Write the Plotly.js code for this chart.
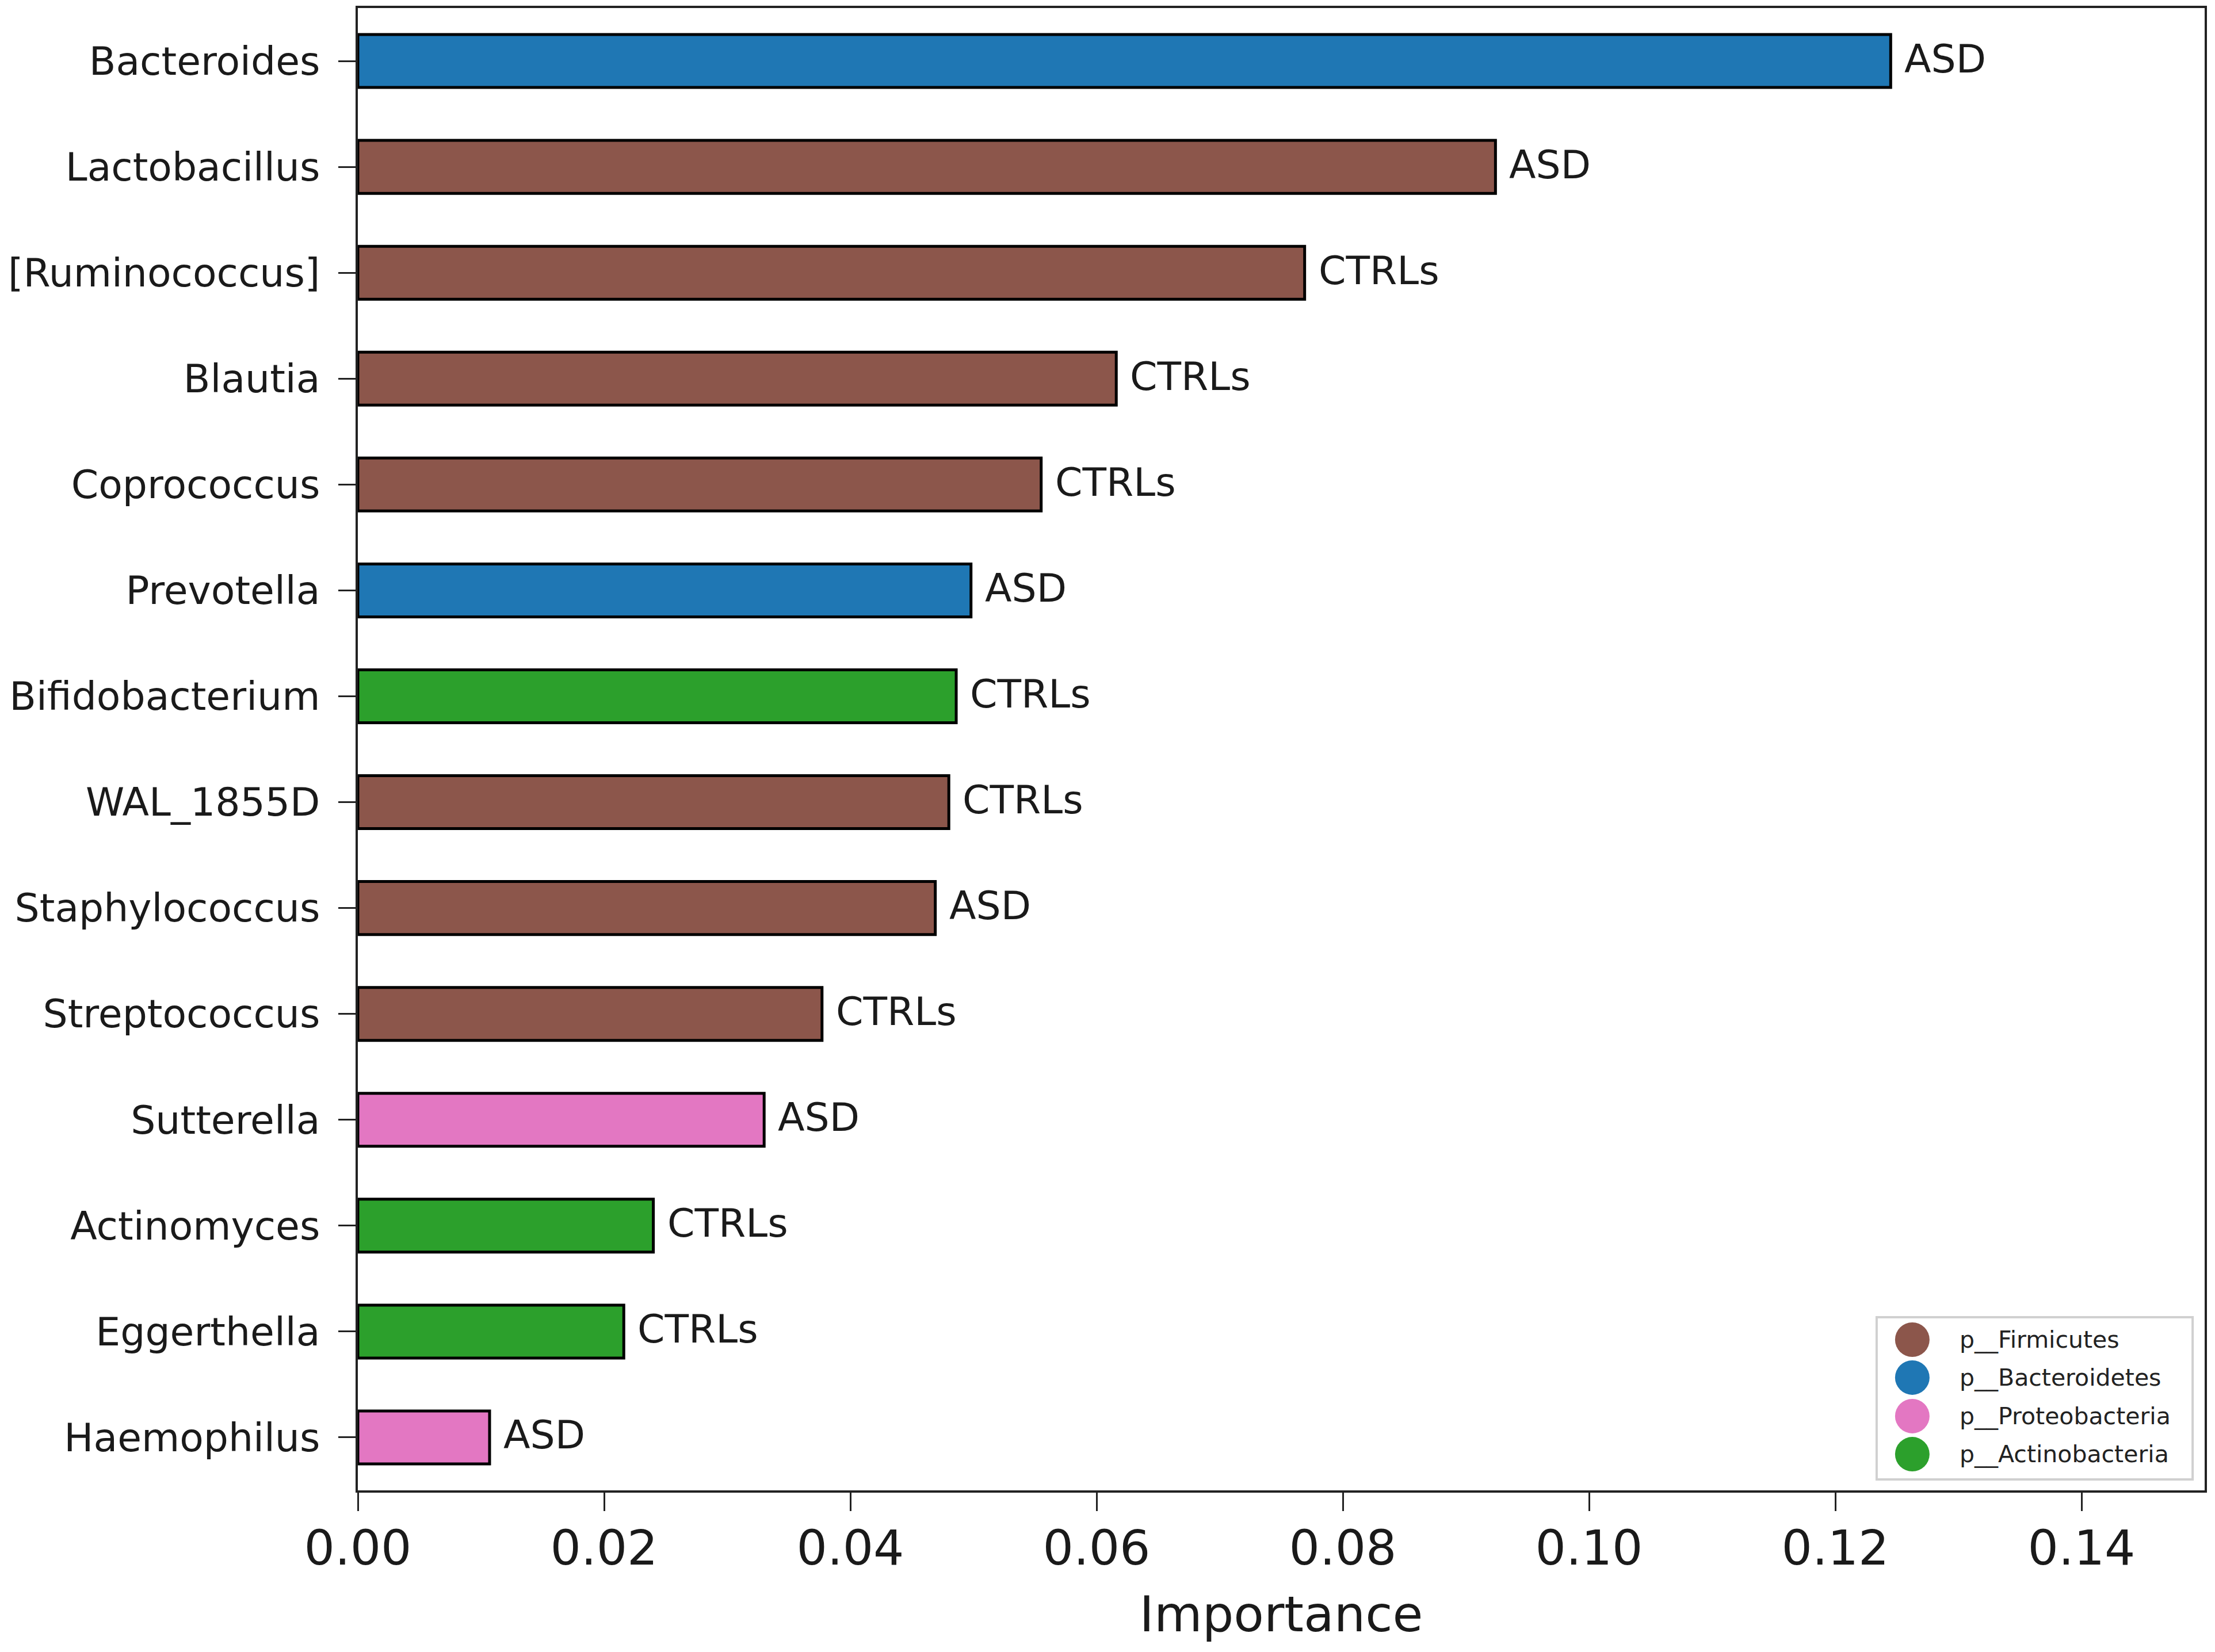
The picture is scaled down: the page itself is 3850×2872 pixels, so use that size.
<!DOCTYPE html>
<html>
<head>
<meta charset="utf-8">
<script src="https://cdn.plot.ly/plotly-3.0.1.min.js"></script>
<style>
  body { margin: 0; background: #fff; }
  #chart { width: 3850px; height: 2872px; }
</style>
</head>
<body>
<div id="chart"></div>
<script>
// genera, top to bottom
const genera = [
  "Bacteroides", "Lactobacillus", "[Ruminococcus]", "Blautia", "Coprococcus",
  "Prevotella", "Bifidobacterium", "WAL_1855D", "Staphylococcus", "Streptococcus",
  "Sutterella", "Actinomyces", "Eggerthella", "Haemophilus"
];
const importance = [
  0.1245, 0.0924, 0.0769, 0.0616, 0.0555,
  0.0498, 0.0486, 0.0480, 0.0469, 0.0377,
  0.0330, 0.0240, 0.0216, 0.0107
];
const phylum = [
  "p__Bacteroidetes", "p__Firmicutes", "p__Firmicutes", "p__Firmicutes", "p__Firmicutes",
  "p__Bacteroidetes", "p__Actinobacteria", "p__Firmicutes", "p__Firmicutes", "p__Firmicutes",
  "p__Proteobacteria", "p__Actinobacteria", "p__Actinobacteria", "p__Proteobacteria"
];
const group = [
  "ASD", "ASD", "CTRLs", "CTRLs", "CTRLs",
  "ASD", "CTRLs", "CTRLs", "ASD", "CTRLs",
  "ASD", "CTRLs", "CTRLs", "ASD"
];
const legendPhyla = ["p__Firmicutes", "p__Bacteroidetes", "p__Proteobacteria", "p__Actinobacteria"];
const xTicks = [0, 0.02, 0.04, 0.06, 0.08, 0.10, 0.12, 0.14];

const phylumColor = {
  "p__Firmicutes": "#8c564b",
  "p__Bacteroidetes": "#1f77b4",
  "p__Proteobacteria": "#e377c2",
  "p__Actinobacteria": "#2ca02c"
};

const font = "DejaVu Sans, Liberation Sans, sans-serif";

const trace = {
  type: "bar",
  orientation: "h",
  x: importance,
  y: genera,
  width: 0.5,
  marker: {
    color: phylum.map(p => phylumColor[p]),
    line: { color: "#000", width: 5 }
  },
  hoverinfo: "x+y",
  showlegend: false
};

// group labels next to bar ends
const annotations = genera.map((g, i) => ({
  x: importance[i],
  y: g,
  xref: "x",
  yref: "y",
  text: group[i],
  showarrow: false,
  xanchor: "left",
  yanchor: "middle",
  xshift: 22,
  yshift: 4,
  font: { family: font, size: 68, color: "#1a1a1a" }
}));

// hand-made legend in the lower right corner
const legX = 0.8417, legTextX = 0.8667;
const legY = [0.1017, 0.0761, 0.0501, 0.0244];
const shapes = [{
  type: "rect",
  xref: "paper", yref: "paper",
  x0: 0.8224, x1: 0.9935, y0: 0.0074, y1: 0.1168,
  line: { color: "#d0d0d0", width: 4 },
  fillcolor: "rgba(255,255,255,0.8)",
  layer: "above"
}];
legendPhyla.forEach((p, i) => {
  shapes.push({
    type: "circle",
    xref: "paper", yref: "paper",
    xsizemode: "pixel", ysizemode: "pixel",
    xanchor: legX, yanchor: legY[i],
    x0: -30, x1: 30, y0: -30, y1: 30,
    fillcolor: phylumColor[p],
    line: { width: 0 },
    layer: "above"
  });
  annotations.push({
    x: legTextX, y: legY[i],
    xref: "paper", yref: "paper",
    text: p,
    showarrow: false,
    xanchor: "left", yanchor: "middle",
    font: { family: font, size: 41, color: "#222" }
  });
});

const layout = {
  width: 3850,
  height: 2872,
  margin: { l: 622, r: 18, t: 14, b: 281 },
  paper_bgcolor: "#fff",
  plot_bgcolor: "#fff",
  font: { family: font, color: "#1a1a1a" },
  bargap: 0.5,
  xaxis: {
    range: [0, 0.15],
    tickvals: xTicks,
    tickformat: ".2f",
    ticks: "outside",
    ticklen: 32,
    tickwidth: 3,
    tickcolor: "#222",
    ticklabelstandoff: -8,
    tickfont: { family: font, size: 84, color: "#1a1a1a" },
    showgrid: false,
    zeroline: false,
    showline: true,
    linecolor: "#222",
    linewidth: 4,
    mirror: true,
    title: { text: "Importance", font: { family: font, size: 86, color: "#1a1a1a" }, standoff: 38 }
  },
  yaxis: {
    type: "category",
    categoryorder: "array",
    categoryarray: genera,
    range: [13.5, -0.5],
    ticks: "outside",
    ticklen: 30,
    tickwidth: 3,
    tickcolor: "#222",
    ticklabelstandoff: 18,
    tickfont: { family: font, size: 68, color: "#1a1a1a" },
    showgrid: false,
    zeroline: false,
    showline: true,
    linecolor: "#222",
    linewidth: 4,
    mirror: true
  },
  shapes: shapes,
  annotations: annotations,
  showlegend: false
};

Plotly.newPlot("chart", [trace], layout, { displayModeBar: false, staticPlot: true });
</script>
</body>
</html>
